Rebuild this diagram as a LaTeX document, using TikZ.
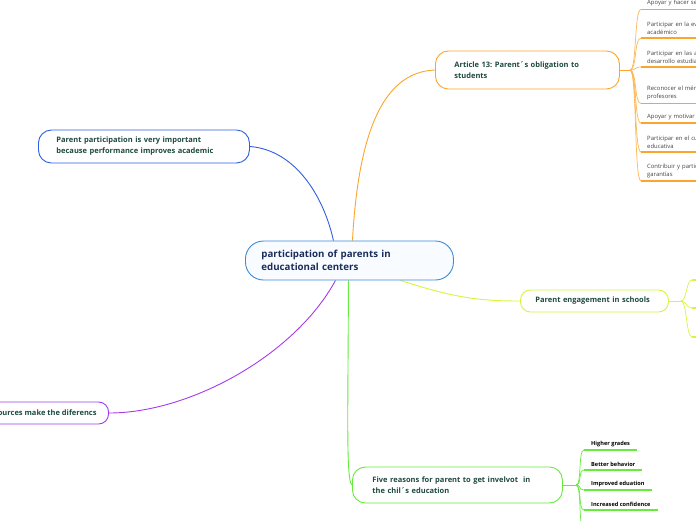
\documentclass[tikz,border=0pt]{standalone}
\usepackage{fontspec}
\setmainfont{Open Sans}
\usepackage{xcolor}
\usepackage{tikz}
\usetikzlibrary{positioning, arrows.meta, calc, backgrounds}
\definecolor{centerBorder}{HTML}{3B8BD4}
\definecolor{centerFill}{HTML}{F8FBFF}
\definecolor{centerText}{HTML}{1A2D5A}
\definecolor{topicText}{HTML}{1E4A3F}
\definecolor{itemText}{HTML}{444444}
\definecolor{blueBranch}{HTML}{2F5FE0}
\definecolor{orangeBranch}{HTML}{FBA52C}
\definecolor{limeBranch}{HTML}{D6F53E}
\definecolor{purpleBranch}{HTML}{A43BEB}
\definecolor{greenBranch}{HTML}{66EA3C}
\frenchspacing

\begin{document}
\begin{tikzpicture}[x=1pt, y=-1pt, every node/.style={align=left}]
    \tikzset{topicbox/.style={draw, fill=white, line width=0.9pt, rounded corners=13pt, inner ysep=2pt, font=\fontsize{7.5}{11}\selectfont\bfseries, text=topicText},
      con/.style={line width=0.9pt},
      artitem/.style={anchor=south west, inner xsep=6pt, inner ysep=3pt, text width=200pt, font=\fontsize{5.9}{8.2}\selectfont, text=itemText},
      whyitem/.style={anchor=south west, inner xsep=7pt, inner ysep=3pt, font=\fontsize{5.6}{7}\selectfont\bfseries, text=black},
      underline/.style={line width=1.3pt}}
    \useasboundingbox (0,0) rectangle (696,520);
    \clip (0,0) rectangle (696,520);
    % central topic
    \node[draw=centerBorder, fill=centerFill, line width=0.9pt, rounded corners=18pt, anchor=west, minimum height=39pt, text width=176pt, inner xsep=16pt, font=\fontsize{9.7}{13}\selectfont\bfseries, text=centerText] (ctr) at (245,260.5) {participation of parents in\\educational centers};
    % main topics
    \node[topicbox, draw=orangeBranch, anchor=west, minimum height=38pt, text width=146pt, inner xsep=19pt] (art) at (435,70) {Article 13: Parent´s obligation to\\students};
    \node[topicbox, draw=blueBranch, anchor=west, minimum height=33pt, text width=175pt, inner xsep=18pt] (imp) at (38,146.5) {Parent participation is very important\\because performance improves academic};
    \node[topicbox, draw=limeBranch, anchor=west, minimum height=22pt, text width=118pt, inner xsep=15pt, rounded corners=10pt] (eng) at (520,301) {Parent engagement in schools};
    \node[topicbox, draw=purpleBranch, anchor=east, minimum height=22pt, inner xsep=12pt, rounded corners=10pt] (res) at (109,413) {Resources make the diferencs};
    \node[topicbox, draw=greenBranch, anchor=west, minimum height=36pt, text width=170pt, inner xsep=20pt] (why) at (352,485) {Five reasons for parent to get invelvot\ \ in\\the chil´s education};

    \begin{scope}[on background layer]
      \draw[con, blueBranch] ($(ctr.north)+(-16,0)$) .. controls ($(ctr.north)+(-26,-45)$) and (295,150) .. (imp.east);
      \draw[con, orangeBranch] ($(ctr.north)+(3,0)$) .. controls (358,140) and (380,72) .. (art.west);
      \draw[con, limeBranch] ($(ctr.south)+(51,0)$) .. controls (455,298) and (480,301) .. (eng.west);
      \draw[con, purpleBranch] ($(ctr.south)+(-14,0)$) .. controls (295,355) and (190,413) .. (res.east);
      \draw[con, greenBranch] ($(ctr.south)+(-1,0)$) .. controls (348,420) and (346,480) .. (why.west);
    \end{scope}

    % Article 13 items
    \coordinate (artj) at (630,70);
    \draw[con, orangeBranch] (art.east) -- (artj);
    \foreach \nm/\yy/\txt in {o1/9.5/{Apoyar y hacer seguimiento},
        o2/38/{Participar en la evaluación del rendimiento\\académico},
        o3/67/{Participar en las actividades para el\\desarrollo estudiantil},
        o4/103.5/{Reconocer el mérito de los\\profesores},
        o5/123/{Apoyar y motivar a los estudiantes},
        o6/152/{Participar en el cuidado de la comunidad\\educativa},
        o7/181/{Contribuir y participar en las\\garantías}}{
      \node[artitem] (\nm) at (641,\yy) {\txt};
      \draw[underline, orangeBranch] (\nm.south west) -- (\nm.south east);
      \draw[con, orangeBranch!80, line width=0.7pt] (artj) .. controls ($(artj)+(7,0)$) and ($(\nm.south west)+(-7,0)$) .. (\nm.south west);
    }

    % engagement items (off the page)
    \coordinate (engj) at (681,301);
    \draw[con, limeBranch] (eng.east) -- (engj);
    \foreach \nm/\yy in {e1/280, e2/308, e3/337}{
      \coordinate (\nm) at (692,\yy);
      \draw[underline, limeBranch] (\nm) -- ++(12,0);
      \draw[con, limeBranch, line width=0.7pt] (engj) .. controls ($(engj)+(6,0)$) and ($(\nm)+(-6,0)$) .. (\nm);
    }

    % five reasons items
    \coordinate (whyj) at (576,485);
    \draw[con, greenBranch] (why.east) -- (whyj);
    \foreach \nm/\yy/\txt in {w1/450/Higher grades, w2/470/Better behavior, w3/490/Improved eduation, w4/510/Increased confidence}{
      \node[whyitem] (\nm) at (584,\yy) {\txt};
      \draw[underline, greenBranch] (\nm.south west) -- (\nm.south east);
      \draw[con, greenBranch, line width=0.7pt] (whyj) .. controls ($(whyj)+(6,0)$) and ($(\nm.south west)+(-6,0)$) .. (\nm.south west);
    }
    \coordinate (w5) at (584,530);
    \draw[con, greenBranch, line width=0.7pt] (whyj) .. controls ($(whyj)+(6,0)$) and ($(w5)+(-6,0)$) .. (w5);
  \end{tikzpicture}
\end{document}
